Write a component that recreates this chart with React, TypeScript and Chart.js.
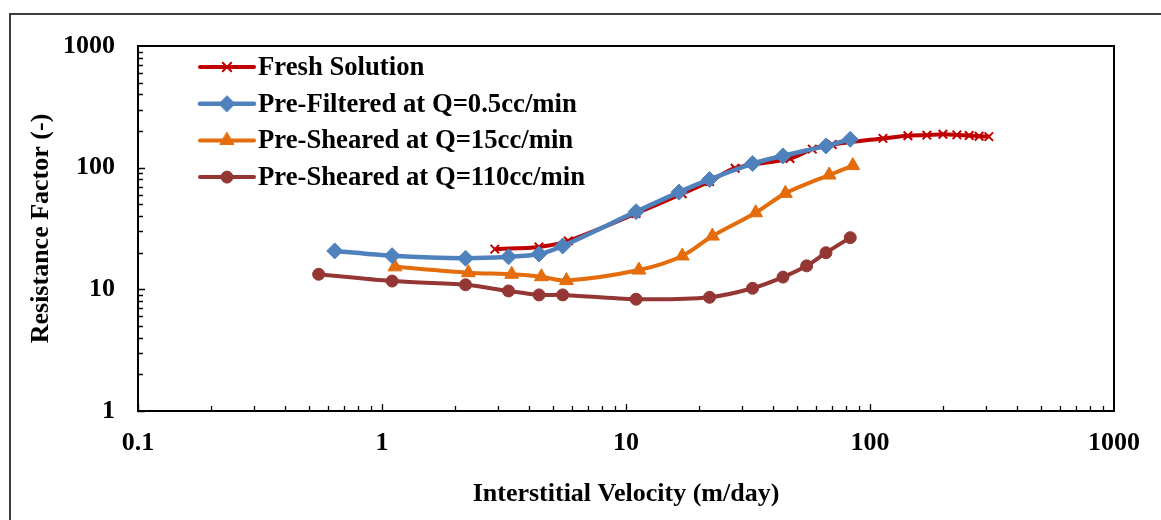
import React, { useEffect, useRef } from "react";
import { Chart, registerables } from "chart.js";
import { drawPoint } from "chart.js/helpers";

Chart.register(...registerables);

// Interstitial velocity (m/day) and resistance factor (-) for each solution
const freshVelocity = [2.9, 4.4, 5.8, 11, 17, 22, 28, 47, 58, 70, 113, 143, 171, 199, 227, 255, 280, 307];
const freshRF = [21.4, 22.3, 25, 42, 61, 77, 99, 119, 142, 155, 174, 183, 185, 188, 186, 184, 181, 180];

const filteredVelocity = [0.64, 1.1, 2.2, 3.3, 4.4, 5.5, 11, 16.5, 22, 33, 44, 66, 83];
const filteredRF = [20.7, 18.9, 18.0, 18.5, 19.5, 22.7, 43.5, 63, 80, 108, 125, 151, 171];

const sheared15Velocity = [1.13, 2.26, 3.4, 4.5, 5.7, 11.3, 17, 22.6, 34, 45, 68, 85];
const sheared15RF = [15.3, 13.7, 13.3, 12.7, 11.8, 14.4, 18.8, 27.4, 42.6, 61.5, 87, 104];

const sheared110Velocity = [0.55, 1.1, 2.2, 3.3, 4.4, 5.5, 11, 22, 33, 44, 55, 66, 83];
const sheared110RF = [13.3, 11.7, 10.9, 9.7, 9.0, 9.0, 8.3, 8.6, 10.2, 12.6, 15.6, 20.0, 26.6];

const seriesLabels = [
  "Fresh Solution",
  "Pre-Filtered at Q=0.5cc/min",
  "Pre-Sheared at Q=15cc/min",
  "Pre-Sheared at Q=110cc/min",
];

const xTickValues = [0.1, 1, 10, 100, 1000];
const yTickValues = [1, 10, 100, 1000];

const xTitle = "Interstitial Velocity (m/day)";
const yTitle = "Resistance Factor (-)";

const FONT_FAMILY = '"Liberation Serif", "Times New Roman", serif';
const W = 1161;
const H = 520;

type SeriesStyle = {
  color: string;
  pointStyle: string;
  radius: number;
  lineWidth: number;
  pointBorderWidth: number;
  order: number;
};

const styles: SeriesStyle[] = [
  { color: "#C00000", pointStyle: "crossRot", radius: 6, lineWidth: 4, pointBorderWidth: 2, order: 2 },
  { color: "#4F81BD", pointStyle: "rectRot", radius: 8, lineWidth: 4.5, pointBorderWidth: 1, order: 1 },
  { color: "#E46C0A", pointStyle: "triangle", radius: 8, lineWidth: 4, pointBorderWidth: 1, order: 3 },
  { color: "#943634", pointStyle: "circle", radius: 6, lineWidth: 4, pointBorderWidth: 1, order: 4 },
];

const seriesData = [
  [freshVelocity, freshRF],
  [filteredVelocity, filteredRF],
  [sheared15Velocity, sheared15RF],
  [sheared110Velocity, sheared110RF],
];

// Outer frame, plot box, inward minor/major ticks and the line+marker legend
const decorations = {
  id: "decorations",
  afterDraw(chart: any) {
    const ctx = chart.ctx as CanvasRenderingContext2D;
    const area = chart.chartArea;
    const xs = chart.scales.x;
    const ys = chart.scales.y;
    ctx.save();

    // outer frame
    ctx.strokeStyle = "#3c3c3c";
    ctx.lineWidth = 2;
    ctx.beginPath();
    ctx.moveTo(10, H + 2);
    ctx.lineTo(10, 14);
    ctx.lineTo(W + 2, 14);
    ctx.stroke();

    // plot box
    ctx.strokeStyle = "#000";
    ctx.lineWidth = 2;
    ctx.strokeRect(area.left, area.top, area.right - area.left, area.bottom - area.top);

    // ticks along x (pointing up into the plot)
    ctx.lineWidth = 1.3;
    ctx.beginPath();
    for (let d = 0.1; d < 1000; d *= 10) {
      for (let m = 1; m <= 9; m++) {
        const v = d * m;
        const px = Math.round(xs.getPixelForValue(v)) + 0.5;
        const len = m === 1 ? 7 : 5;
        ctx.moveTo(px, area.bottom);
        ctx.lineTo(px, area.bottom - len);
      }
    }
    // ticks along y (pointing right into the plot)
    for (let d = 1; d < 1000; d *= 10) {
      for (let m = 1; m <= 9; m++) {
        const v = d * m;
        const py = Math.round(ys.getPixelForValue(v)) + 0.5;
        const len = m === 1 ? 7 : 5;
        ctx.moveTo(area.left, py);
        ctx.lineTo(area.left + len, py);
      }
    }
    ctx.stroke();

    // legend
    const lx0 = 200;
    const lx1 = 254;
    const ly0 = 67;
    const dy = 36.7;
    ctx.font = `bold 26.7px ${FONT_FAMILY}`;
    ctx.textBaseline = "middle";
    ctx.textAlign = "left";
    seriesLabels.forEach((label, i) => {
      const s = styles[i];
      const y = ly0 + i * dy;
      ctx.strokeStyle = s.color;
      ctx.lineWidth = s.lineWidth;
      ctx.lineCap = "round";
      ctx.beginPath();
      ctx.moveTo(lx0, y);
      ctx.lineTo(lx1, y);
      ctx.stroke();
      ctx.fillStyle = s.color;
      ctx.strokeStyle = s.color;
      ctx.lineWidth = s.pointBorderWidth;
      drawPoint(ctx, { pointStyle: s.pointStyle as any, radius: s.radius, rotation: 0, borderWidth: s.pointBorderWidth }, (lx0 + lx1) / 2, y);
      ctx.fillStyle = "#000";
      ctx.fillText(label, 258, y + 1);
    });

    ctx.restore();
  },
};

export default function App() {
  const canvasRef = useRef<HTMLCanvasElement | null>(null);

  useEffect(() => {
    const canvas = canvasRef.current;
    if (!canvas) return;

    const datasets = seriesData.map(([vx, vy], i) => {
      const s = styles[i];
      return {
        label: seriesLabels[i],
        data: vx.map((x, k) => ({ x, y: vy[k] })),
        borderColor: s.color,
        backgroundColor: s.color,
        borderWidth: s.lineWidth,
        pointStyle: s.pointStyle as any,
        pointRadius: s.radius,
        pointHoverRadius: s.radius,
        pointBackgroundColor: s.color,
        pointBorderColor: s.color,
        pointBorderWidth: s.pointBorderWidth,
        tension: 0.3,
        fill: false,
        order: s.order,
      };
    });

    const tickFont = { family: FONT_FAMILY, size: 26, weight: "bold" as const };

    const chart = new Chart(canvas, {
      type: "line",
      data: { datasets },
      options: {
        animation: false,
        responsive: false,
        devicePixelRatio: 1,
        layout: { padding: { left: 0, top: 46, right: W - 1114, bottom: 0 } },
        plugins: {
          legend: { display: false },
          tooltip: { enabled: false },
        },
        scales: {
          x: {
            type: "logarithmic",
            position: "bottom",
            min: 0.1,
            max: 1000,
            grid: { display: false, drawTicks: false },
            border: { display: false },
            afterBuildTicks: (scale: any) => {
              scale.ticks = xTickValues.map((v) => ({ value: v }));
            },
            afterFit: (scale: any) => {
              scale.height = H - 411;
            },
            ticks: {
              autoSkip: false,
              maxRotation: 0,
              padding: 17,
              color: "#000",
              font: tickFont,
              callback: (v: any) => String(Number(v)),
            },
            title: {
              display: true,
              text: xTitle,
              color: "#000",
              font: tickFont,
              padding: { top: 0, bottom: 10 },
            },
          },
          y: {
            type: "logarithmic",
            position: "left",
            min: 1,
            max: 1000,
            grid: { display: false, drawTicks: false },
            border: { display: false },
            afterBuildTicks: (scale: any) => {
              scale.ticks = yTickValues.map((v) => ({ value: v }));
            },
            afterFit: (scale: any) => {
              scale.width = 138;
            },
            ticks: {
              autoSkip: false,
              padding: 23,
              color: "#000",
              font: tickFont,
              callback: (v: any) => String(Number(v)),
            },
            title: {
              display: true,
              text: yTitle,
              color: "#000",
              font: tickFont,
              padding: { top: 26, bottom: 0 },
            },
          },
        },
      },
      plugins: [decorations],
    });

    return () => chart.destroy();
  }, []);

  return (
    <div style={{ position: "absolute", left: 0, top: 0, width: W, height: H, background: "#fff" }}>
      <canvas ref={canvasRef} width={W} height={H} style={{ display: "block" }} />
    </div>
  );
}
